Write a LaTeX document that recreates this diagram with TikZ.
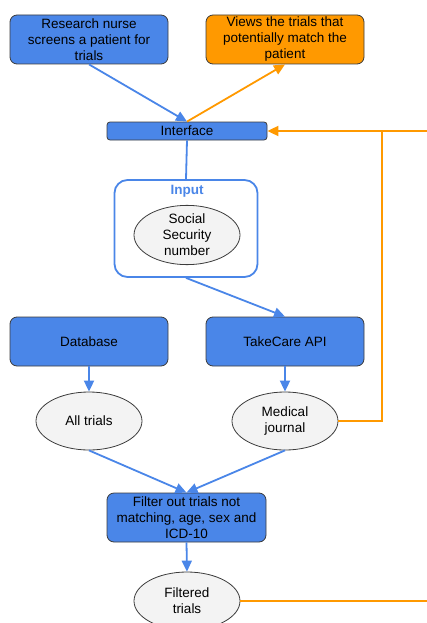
\documentclass[tikz,border=0pt]{standalone}
\usepackage{fontspec}
\setmainfont{Liberation Sans}
\usetikzlibrary{arrows.meta,shapes.geometric}
\definecolor{gblue}{HTML}{4A86E8}
\definecolor{gorange}{HTML}{FF9900}
\definecolor{gfill}{HTML}{F3F3F3}
\definecolor{gedge}{HTML}{3C3C3C}
\begin{document}
\begin{tikzpicture}[x=1pt,y=-1pt,
  font=\fontsize{13.5}{16}\selectfont,
  box/.style={draw=gedge,line width=0.8pt,rounded corners=7pt,align=center,
    minimum width=158pt,minimum height=49pt,inner sep=0pt},
  bluebox/.style={box,fill=gblue},
  orangebox/.style={box,fill=gorange},
  oval/.style={ellipse,draw=gedge,line width=0.8pt,fill=gfill,align=center,
    minimum width=106pt,minimum height=58pt,inner sep=0pt},
  frame/.style={draw=gblue,line width=1.8pt,rounded corners=13pt,fill=white,
    minimum width=143pt,minimum height=97pt,inner sep=0pt},
  blueline/.style={draw=gblue,line width=1.8pt},
  orangeline/.style={draw=gorange,line width=1.8pt},
  tip/.style={-{Triangle[length=11pt,width=10pt]}}
]
\useasboundingbox (0,0) rectangle (427,623);
\clip (0,0) rectangle (427,623);

% top row
\node[bluebox] (nurse) at (89,39.5) {Research nurse\\screens a patient for\\trials};
\node[orangebox] (views) at (285,39.5) {Views the trials that\\potentially match the\\patient};
\node[bluebox,minimum width=160pt,minimum height=18pt,rounded corners=3pt] (iface) at (187,131) {Interface};

% input group
\node[frame] (input) at (186,228.5) {};
\node[font=\fontsize{13.5}{16}\selectfont\bfseries,text=gblue] (inputlbl) at (187,191) {Input};
\node[oval] (ssn) at (187,235) {Social\\Security\\number};

% sources
\node[bluebox] (db) at (89,341.5) {Database};
\node[bluebox] (tc) at (285,341.5) {TakeCare API};
\node[oval] (all) at (89,421) {All trials};
\node[oval] (mj) at (285,421) {Medical\\journal};

% filtering
\node[bluebox,minimum width=159pt] (filter) at (186.5,517.5) {Filter out trials not\\matching, age, sex and\\ICD-10};
\node[oval] (ft) at (187,601) {Filtered\\trials};

% feedback loop coordinates
\coordinate (jn) at (382,131);
\coordinate (farT) at (440,131);
\coordinate (farB) at (440,601);

% blue flow
\draw[blueline,tip] (nurse.south) -- (iface.north);
\draw[blueline] (iface.south) -- (input.north);
\draw[blueline,tip] (input.south) -- (tc.north);
\draw[blueline,tip] (db.south) -- (all.north);
\draw[blueline,tip] (tc.south) -- (mj.north);
\draw[blueline,tip] (all.south) -- (filter.north);
\draw[blueline,tip] (mj.south) -- (filter.north);
\draw[blueline,tip] (filter.south) -- (ft.north);

% orange flow
\draw[orangeline,tip] (iface.north) -- (views.south);
\draw[orangeline,tip] (ft.east) -- (farB) -- (farT) -- (iface.east);
\draw[orangeline] (mj.east) -| (jn);
\end{tikzpicture}
\end{document}
